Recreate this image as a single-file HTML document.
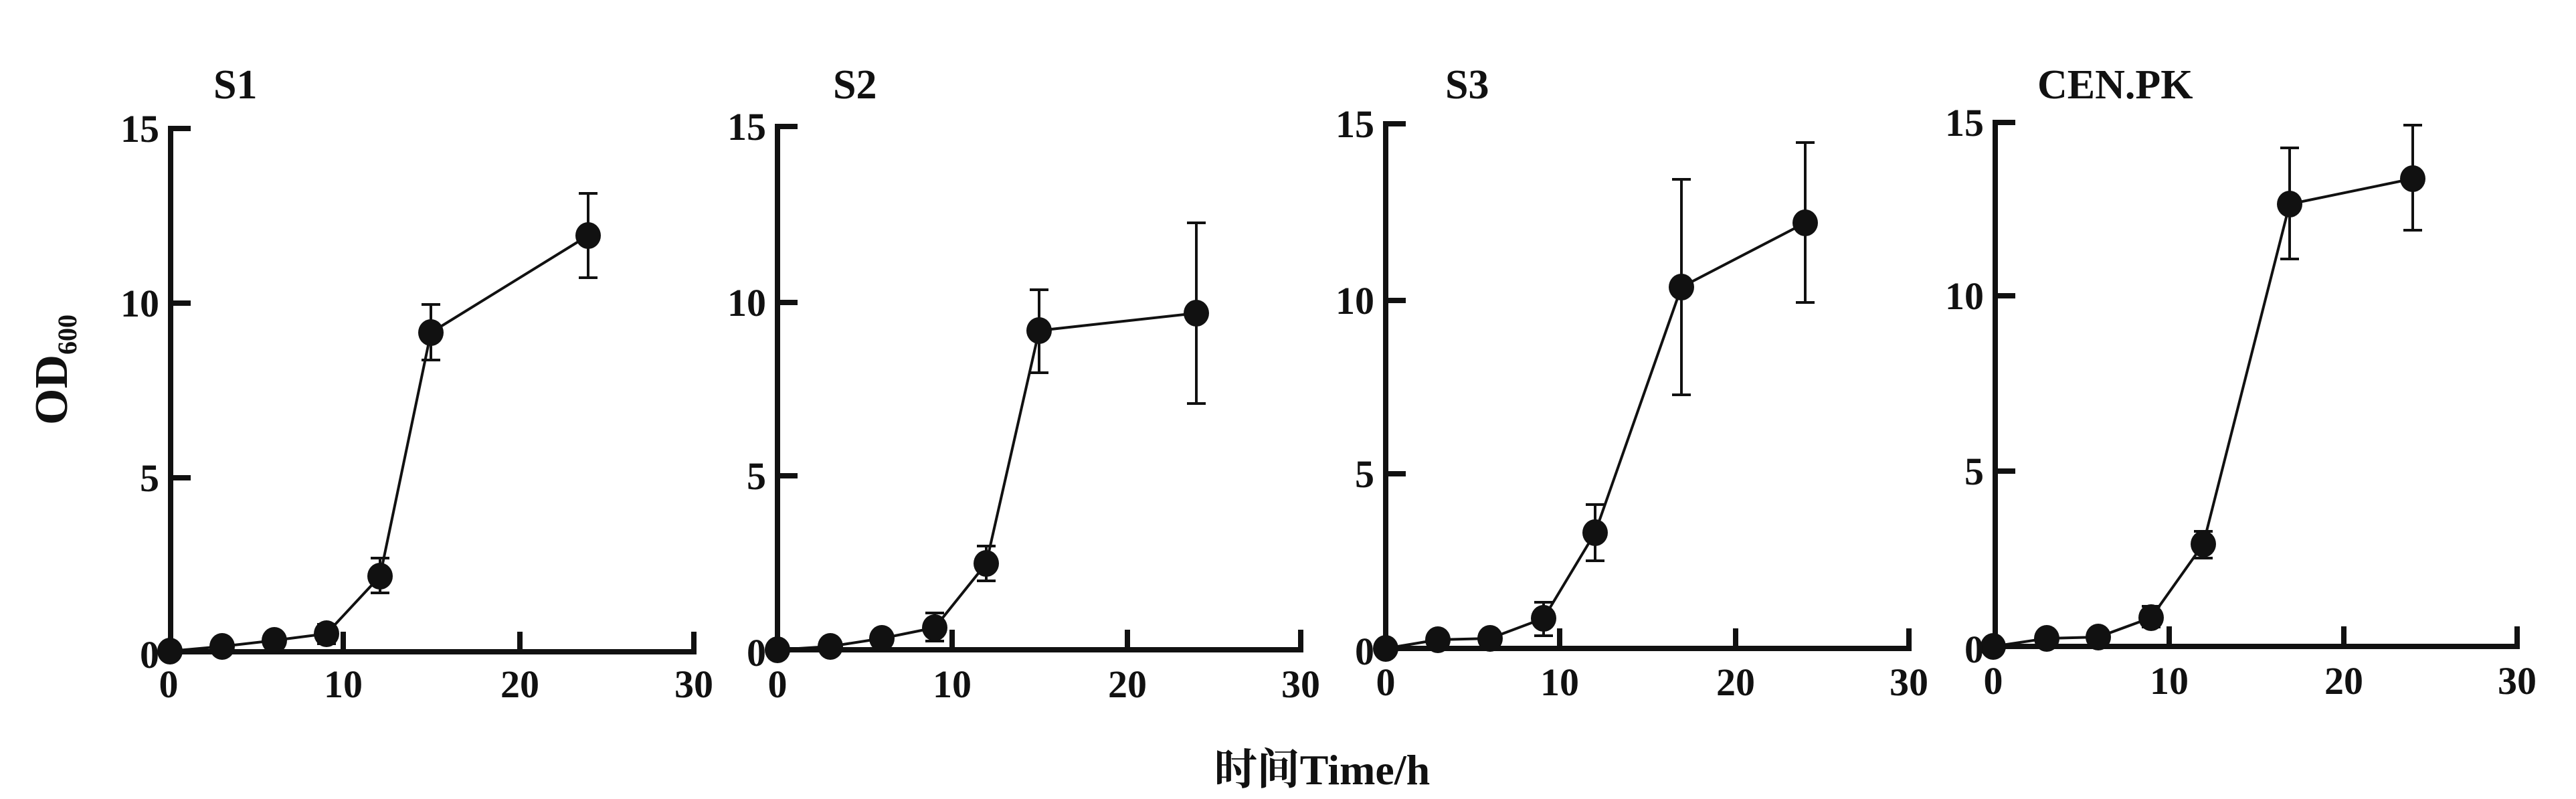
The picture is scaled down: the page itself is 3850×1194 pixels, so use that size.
<!DOCTYPE html>
<html><head><meta charset="utf-8"><style>
html,body{margin:0;padding:0;background:#fff;}
svg{display:block;}
text{font-family:"Liberation Serif","Noto Serif CJK SC",serif;font-weight:bold;fill:#111;}
</style></head><body>
<svg width="3850" height="1194" viewBox="0 0 3850 1194" xmlns="http://www.w3.org/2000/svg">
<g stroke="#111" fill="none" stroke-width="8" stroke-linecap="butt">
<path d="M285 192 H255 V974 H1037 V944 M513 974 V944 M777 974 V944 M255 453 H285 M255 714 H285"/>
<path d="M1192 189 H1162 V971 H1944 V941 M1423 971 V941 M1685 971 V941 M1162 452 H1192 M1162 711 H1192"/>
<path d="M2101 185 H2071 V969 H2853 V939 M2331 969 V939 M2594 969 V939 M2071 449 H2101 M2071 708 H2101"/>
<path d="M3012 183 H2982 V966 H3762 V936 M3242 966 V936 M3503 966 V936 M2982 442 H3012 M2982 704 H3012"/>
</g>
<g stroke="#111" fill="none" stroke-width="4">
<polyline points="254,973 332,966 410,957 488,947 568,861 644,497 879,352"/>
<polyline points="1162,971 1241,966 1318,954 1397,938 1474,842 1553,494 1788,468"/>
<polyline points="2071,969 2149,956 2227,954 2307,924 2384,796 2513,429 2698,333"/>
<polyline points="2979,966 3059,954 3136,952 3215,923 3293,813 3422,305 3606,267"/>
<path d="M488 933 V962 M474 933 H502 M474 962 H502
M568 834 V886 M554 834 H582 M554 886 H582
M644 455 V538 M630 455 H658 M630 538 H658
M879 289 V415 M865 289 H893 M865 415 H893"/>
<path d="M1397 916 V958 M1383 916 H1411 M1383 958 H1411
M1474 816 V868 M1460 816 H1488 M1460 868 H1488
M1553 433 V557 M1539 433 H1567 M1539 557 H1567
M1788 333 V603 M1774 333 H1802 M1774 603 H1802"/>
<path d="M2307 900 V950 M2293 900 H2321 M2293 950 H2321
M2384 754 V838 M2370 754 H2398 M2370 838 H2398
M2513 268 V590 M2499 268 H2527 M2499 590 H2527
M2698 213 V452 M2684 213 H2712 M2684 452 H2712"/>
<path d="M3215 906 V937 M3201 906 H3229 M3201 937 H3229
M3293 794 V834 M3279 794 H3307 M3279 834 H3307
M3422 221 V387 M3408 221 H3436 M3408 387 H3436
M3606 187 V344 M3592 187 H3620 M3592 344 H3620"/>
</g>
<g fill="#111">
<ellipse cx="254" cy="973" rx="19" ry="20"/><ellipse cx="332" cy="966" rx="19" ry="20"/><ellipse cx="410" cy="957" rx="19" ry="20"/><ellipse cx="488" cy="947" rx="19" ry="20"/><ellipse cx="568" cy="861" rx="19" ry="20"/><ellipse cx="644" cy="497" rx="19" ry="20"/><ellipse cx="879" cy="352" rx="19" ry="20"/>
<ellipse cx="1162" cy="971" rx="19" ry="20"/><ellipse cx="1241" cy="966" rx="19" ry="20"/><ellipse cx="1318" cy="954" rx="19" ry="20"/><ellipse cx="1397" cy="938" rx="19" ry="20"/><ellipse cx="1474" cy="842" rx="19" ry="20"/><ellipse cx="1553" cy="494" rx="19" ry="20"/><ellipse cx="1788" cy="468" rx="19" ry="20"/>
<ellipse cx="2071" cy="969" rx="19" ry="20"/><ellipse cx="2149" cy="956" rx="19" ry="20"/><ellipse cx="2227" cy="954" rx="19" ry="20"/><ellipse cx="2307" cy="924" rx="19" ry="20"/><ellipse cx="2384" cy="796" rx="19" ry="20"/><ellipse cx="2513" cy="429" rx="19" ry="20"/><ellipse cx="2698" cy="333" rx="19" ry="20"/>
<ellipse cx="2979" cy="966" rx="19" ry="20"/><ellipse cx="3059" cy="954" rx="19" ry="20"/><ellipse cx="3136" cy="952" rx="19" ry="20"/><ellipse cx="3215" cy="923" rx="19" ry="20"/><ellipse cx="3293" cy="813" rx="19" ry="20"/><ellipse cx="3422" cy="305" rx="19" ry="20"/><ellipse cx="3606" cy="267" rx="19" ry="20"/>
</g>
<g font-size="62">
<text x="319" y="147">S1</text>
<text x="1245" y="147">S2</text>
<text x="2160" y="147">S3</text>
<text x="3045" y="147">CEN.PK</text>
</g>
<g font-size="58" text-anchor="end">
<text x="238" y="212">15</text><text x="238" y="473">10</text><text x="238" y="734">5</text><text x="238" y="998">0</text>
<text x="1145" y="209">15</text><text x="1145" y="472">10</text><text x="1145" y="731">5</text><text x="1145" y="995">0</text>
<text x="2054" y="205">15</text><text x="2054" y="469">10</text><text x="2054" y="728">5</text><text x="2054" y="993">0</text>
<text x="2965" y="203">15</text><text x="2965" y="462">10</text><text x="2965" y="724">5</text><text x="2965" y="990">0</text>
</g>
<g font-size="58" text-anchor="middle">
<text x="252" y="1042">0</text><text x="513" y="1042">10</text><text x="777" y="1042">20</text><text x="1037" y="1042">30</text>
<text x="1162" y="1042">0</text><text x="1423" y="1042">10</text><text x="1685" y="1042">20</text><text x="1944" y="1042">30</text>
<text x="2071" y="1039">0</text><text x="2331" y="1039">10</text><text x="2594" y="1039">20</text><text x="2853" y="1039">30</text>
<text x="2979" y="1037">0</text><text x="3242" y="1037">10</text><text x="3503" y="1037">20</text><text x="3762" y="1037">30</text>
</g>
<text transform="translate(100,635) rotate(-90)" font-size="70">OD<tspan font-size="40" dy="14">600</tspan></text>
<text x="1976" y="1172" font-size="64" text-anchor="middle">时间Time/h</text>
</svg>
</body></html>
